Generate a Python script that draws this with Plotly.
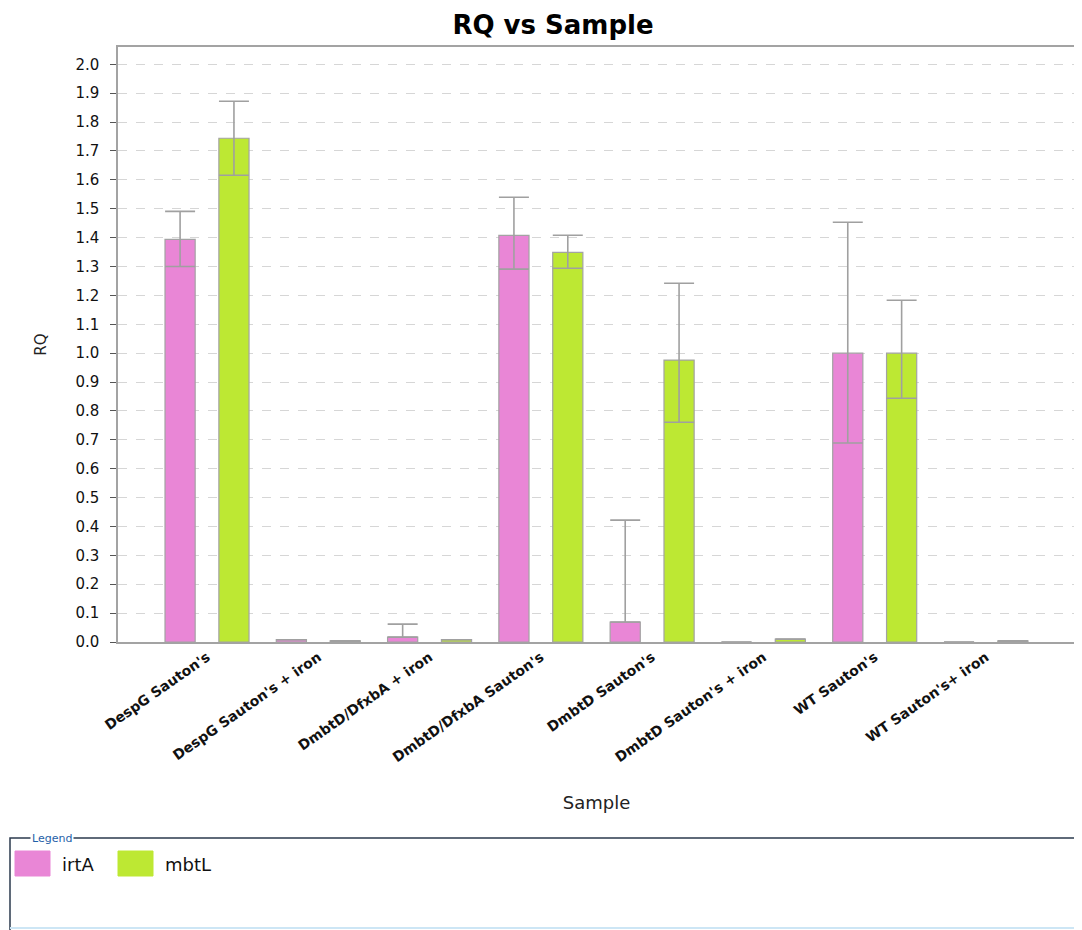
import plotly.graph_objects as go

samples = ["DespG Sauton's", "DespG Sauton's + iron", "DmbtD/DfxbA + iron",
           "DmbtD/DfxbA Sauton's", "DmbtD Sauton's", "DmbtD Sauton's + iron",
           "WT Sauton's", "WT Sauton's+ iron"]

irtA = [1.394, 0.008, 0.017, 1.408, 0.069, 0.0, 1.000, 0.0]
irtA_plus = [0.097, 0.0, 0.045, 0.132, 0.353, 0.0, 0.453, 0.0]
irtA_minus = [0.094, 0.0, 0.0, 0.117, 0.0, 0.0, 0.311, 0.0]

mbtL = [1.744, 0.004, 0.008, 1.349, 0.976, 0.010, 1.000, 0.004]
mbtL_plus = [0.128, 0.0, 0.0, 0.059, 0.266, 0.0, 0.183, 0.0]
mbtL_minus = [0.128, 0.0, 0.0, 0.055, 0.215, 0.0, 0.156, 0.0]

y_ticks = [round(i * 0.1, 1) for i in range(21)]
series_names = ["irtA", "mbtL"]

pink = "#e986d6"
green = "#bde833"
outline = "#a3a3a3"
errc = "#a0a0a0"
FONT = "DejaVu Sans, Liberation Sans, Arial"

OFF = 8  # page body margin offset
W, H = 1082 - OFF, 930 - OFF
L, R, T, B = 118 - OFF, 7, 47 - OFF, 288
PW, PH = W - L - R, H - T - B


def px(x):
    return (x - OFF - L) / PW


def py(y):
    return (H - B - (y - OFF)) / PH


fig = go.Figure()
for name, vals, plus, minus, col in [
    (series_names[0], irtA, irtA_plus, irtA_minus, pink),
    (series_names[1], mbtL, mbtL_plus, mbtL_minus, green),
]:
    fig.add_trace(go.Bar(
        name=name, x=samples, y=vals,
        marker=dict(color=col, line=dict(color=outline, width=1.2)),
        error_y=dict(type="data", symmetric=False, array=plus, arrayminus=minus,
                     color=errc, thickness=1.6, width=15),
    ))

fig.update_layout(
    width=W, height=H,
    paper_bgcolor="white", plot_bgcolor="white",
    margin=dict(l=L, r=R, t=T, b=B, autoexpand=False),
    barmode="group", bargap=0.032, bargroupgap=0.44,
    title=dict(text="<b>RQ vs Sample</b>", x=(553 - OFF) / W, xanchor="center",
               y=1 - (25 - OFF) / H, yanchor="middle",
               font=dict(family=FONT, size=26, color="black")),
    font=dict(family=FONT, color="black"),
    showlegend=False,
)

fig.update_xaxes(
    range=[-0.8, 7.8], tickangle=-35, automargin=False,
    tickfont=dict(family=FONT, size=14, color="#111", weight="bold"),
    showline=True, linecolor=outline, linewidth=1.5, mirror=True,
    ticks="", showgrid=False,
    title=dict(text="Sample", font=dict(family=FONT, size=18, color="#222"), standoff=32),
)
fig.update_yaxes(
    range=[0, 2.06], tickvals=y_ticks, tickformat=".1f", automargin=False,
    tickfont=dict(family=FONT, size=15, color="#111"),
    showline=True, linecolor=outline, linewidth=1.5, mirror=True,
    ticks="outside", ticklen=6, tickcolor="#555", ticklabelstandoff=8,
    showgrid=True, gridcolor="#d6d6d6", griddash="dash", gridwidth=1,
    zeroline=False,
    title=dict(text="RQ", font=dict(family=FONT, size=15, color="#222"), standoff=25),
)

# legend panel (frame, caption, swatches, labels)
fig.add_shape(type="rect", xref="paper", yref="paper",
              x0=px(10), x1=px(1095), y0=py(945), y1=py(838),
              line=dict(color="#2b3a4e", width=1.5), fillcolor="rgba(0,0,0,0)")
fig.add_shape(type="line", xref="paper", yref="paper",
              x0=px(10), x1=px(1090), y0=py(928), y1=py(928),
              line=dict(color="#cde6f5", width=2))
fig.add_annotation(text="Legend", xref="paper", yref="paper", x=px(30), y=py(838),
                   xanchor="left", yanchor="middle", showarrow=False,
                   font=dict(family=FONT, size=11, color="#1f5fa8"), bgcolor="white",
                   borderpad=1)
legend_items = [(series_names[0], pink, 15, 60), (series_names[1], green, 118, 163)]
for name, col, sx, tx in legend_items:
    fig.add_shape(type="rect", xref="paper", yref="paper",
                  x0=px(sx), x1=px(sx + 35), y0=py(876), y1=py(851),
                  line=dict(color=col, width=1), fillcolor=col)
    fig.add_annotation(text=name, xref="paper", yref="paper", x=px(tx), y=py(864),
                       xanchor="left", yanchor="middle", showarrow=False,
                       font=dict(family=FONT, size=18, color="#111"))

fig.write_html("out.html")
